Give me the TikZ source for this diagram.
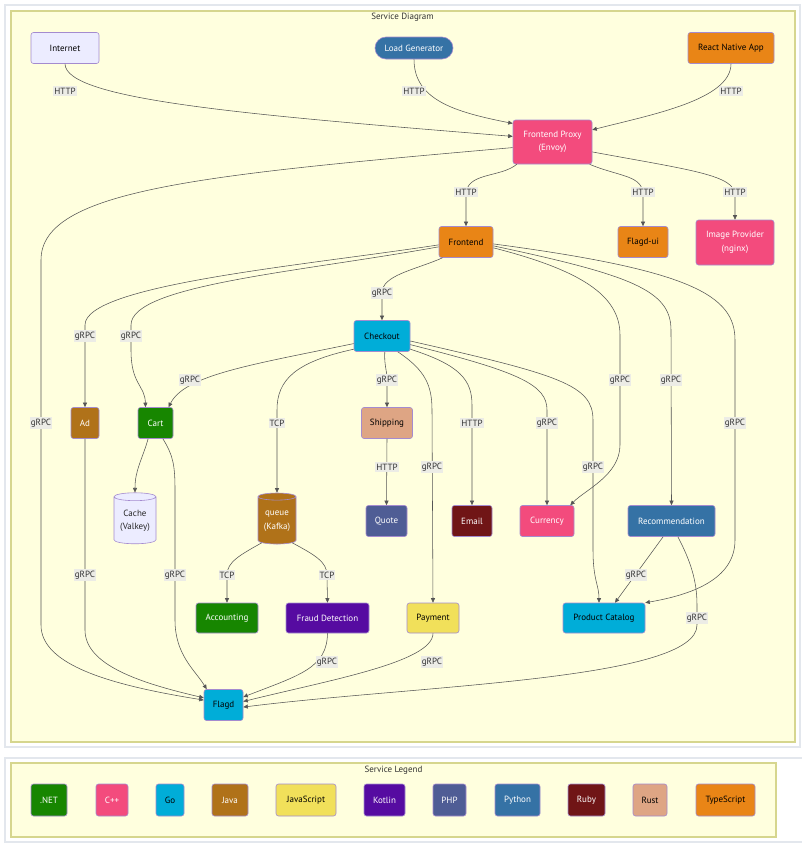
\documentclass[tikz,border=0pt]{standalone}
\usepackage{fontspec}
\setmainfont{PT Sans}
\usetikzlibrary{arrows.meta,shapes.geometric}

\definecolor{dotnet}{HTML}{178600}
\definecolor{cpp}{HTML}{F34B7D}
\definecolor{golang}{HTML}{00ADD8}
\definecolor{java}{HTML}{B07219}
\definecolor{javascript}{HTML}{F1E05A}
\definecolor{kotlin}{HTML}{560BA1}
\definecolor{php}{HTML}{4F5D95}
\definecolor{python}{HTML}{3572A5}
\definecolor{ruby}{HTML}{701516}
\definecolor{rust}{HTML}{DEA584}
\definecolor{typescript}{HTML}{E98516}
\definecolor{extnode}{HTML}{ECECFF}
\definecolor{nodeline}{HTML}{A48BCF}
\definecolor{edgeline}{HTML}{555555}
\definecolor{lblfill}{HTML}{ECECE6}
\definecolor{clusterfill}{HTML}{FFFFDE}
\definecolor{clusterline}{HTML}{D6D68E}
\definecolor{panelline}{HTML}{E3E7ED}

\tikzset{
    svc/.style={draw=nodeline, line width=0.6pt, rounded corners=2.5pt, minimum height=31pt,
        inner xsep=1pt, inner ysep=1pt, align=center, font=\fontsize{9}{13.5}\selectfont},
    lt/.style={svc, text=black},
    dk/.style={svc, text=white},
    db/.style={shape=cylinder, shape border rotate=90, aspect=0.25, draw=nodeline, line width=0.6pt,
        inner sep=1pt, align=center, font=\fontsize{9}{13.5}\selectfont},
    flow/.style={draw=edgeline, line width=0.55pt, -{Triangle[length=4.5pt,width=4pt]}},
    lbl/.style={fill=lblfill, text=black!80, inner xsep=1pt, inner ysep=1.5pt, font=\fontsize{9}{10}\selectfont},
    cluster/.style={fill=clusterfill, draw=clusterline, line width=1.2pt},
    panel/.style={draw=panelline, line width=1.2pt},
    caption/.style={text=black!80, font=\fontsize{9}{10}\selectfont},
}

\begin{document}
\begin{tikzpicture}[x=1pt, y=1pt]
    \useasboundingbox[fill=white] (0,0) rectangle (802,-847);
    \draw[panel] (5,-5) rectangle (800,-747);
    \draw[cluster] (11,-11) rectangle (795,-742);
    \node[caption] (diagtitle) at (402.5,-17) {Service Diagram};
    \draw[panel] (5,-758) rectangle (808,-842);
    \draw[cluster] (11,-763) rectangle (776,-837);
    \node[caption] (legtitle) at (393.5,-770) {Service Legend};

    % services
    \node[lt, fill=extnode, minimum width=68pt] (inet) at (65,-48) {Internet};
    \node[dk, fill=python, minimum width=78pt, minimum height=22pt, rounded corners=11pt] (lg) at (414,-48) {Load Generator};
    \node[lt, fill=typescript, minimum width=86pt] (react) at (731,-48) {React Native App};
    \node[dk, fill=cpp, minimum width=79pt, minimum height=44pt] (proxy) at (552.5,-142) {Frontend Proxy\\(Envoy)};
    \node[lt, fill=typescript, minimum width=54pt] (fe) at (466,-242) {Frontend};
    \node[lt, fill=typescript, minimum width=50pt] (fui) at (643,-242) {Flagd-ui};
    \node[dk, fill=cpp, minimum width=78pt, minimum height=45pt] (img) at (735,-242.5) {Image Provider\\(nginx)};
    \node[lt, fill=golang, minimum width=56pt] (co) at (382,-336) {Checkout};
    \node[dk, fill=java, minimum width=28pt] (ad) at (85,-423) {Ad};
    \node[dk, fill=dotnet, minimum width=35pt] (cart) at (155.5,-423) {Cart};
    \node[lt, fill=rust, minimum width=51pt] (ship) at (387,-423) {Shipping};
    \node[db, fill=extnode, text=black!85, minimum width=42pt, minimum height=51pt] (cache) at (135,-521) {Cache\\(Valkey)};
    \node[db, fill=java, text=white, minimum width=38pt, minimum height=51pt] (kafka) at (277,-521) {queue\\(Kafka)};
    \node[dk, fill=php, minimum width=41pt] (quote) at (386.5,-521) {Quote};
    \node[dk, fill=ruby, minimum width=40pt] (email) at (472,-521) {Email};
    \node[dk, fill=cpp, minimum width=54pt] (cur) at (547,-521) {Currency};
    \node[dk, fill=python, minimum width=87pt] (rec) at (671.5,-521) {Recommendation};
    \node[dk, fill=dotnet, minimum width=62pt, minimum height=30pt] (acc) at (227,-618) {Accounting};
    \node[dk, fill=kotlin, minimum width=83pt, minimum height=30pt] (fraud) at (327.5,-618) {Fraud Detection};
    \node[lt, fill=javascript, minimum width=52pt, minimum height=30pt] (pay) at (433,-618) {Payment};
    \node[lt, fill=golang, minimum width=82pt, minimum height=30pt] (pc) at (604,-618) {Product Catalog};
    \node[lt, fill=golang, minimum width=39pt] (flagd) at (223.5,-705) {Flagd};

    % entry
    \draw[flow] (inet.south) .. controls (65,-100) and (250,-115) .. (proxy.172) node[lbl] at (65,-91) {HTTP};
    \draw[flow] (lg.south) .. controls (414,-100) and (455,-112) .. (proxy.155) node[lbl] at (414,-91) {HTTP};
    \draw[flow] (react.south) .. controls (731,-100) and (650,-115) .. (proxy.17) node[lbl] at (731,-91) {HTTP};
    \draw[flow] (proxy.188) .. controls (200,-175) and (41,-190) .. (41,-260) -- (41,-625)
        .. controls (41,-665) and (110,-685) .. (flagd.166) node[lbl] at (41,-423) {gRPC};
    \draw[flow] (proxy.212) .. controls (500,-178) and (466,-172) .. (466,-195) -- (fe.north) node[lbl] at (466,-192) {HTTP};
    \draw[flow] (proxy.-31) .. controls (620,-177) and (643,-175) .. (643,-195) -- (fui.north) node[lbl] at (643,-192) {HTTP};
    \draw[flow] (proxy.-14) .. controls (690,-170) and (735,-175) .. (735,-195) -- (img.north) node[lbl] at (735,-192) {HTTP};

    % frontend
    \draw[flow] (fe.214) .. controls (415,-270) and (382,-275) .. (382,-293) -- (co.north) node[lbl] at (382,-293) {gRPC};
    \draw[flow] (fe.186) .. controls (300,-266) and (85,-285) .. (85,-325) -- (ad.north) node[lbl] at (85,-336) {gRPC};
    \draw[flow] (fe.190) .. controls (300,-272) and (131,-285) .. (131,-325) -- (131,-350)
        .. controls (131,-385) and (145,-385) .. ([xshift=-10pt]cart.north) node[lbl] at (131,-336) {gRPC};
    \draw[flow] (fe.-12) .. controls (580,-270) and (620,-295) .. (620,-335) -- (620,-445)
        .. controls (620,-475) and (585,-490) .. ([xshift=-4pt]cur.north east) node[lbl] at (620,-380) {gRPC};
    \draw[flow] (fe.-8) .. controls (630,-275) and (671,-290) .. (671,-330) -- (rec.north) node[lbl] at (671,-380) {gRPC};
    \draw[flow] (fe.-4) .. controls (690,-270) and (735,-295) .. (735,-340) -- (735,-540)
        .. controls (735,-580) and (690,-595) .. (pc.north east) node[lbl] at (735,-423) {gRPC};

    % checkout
    \draw[flow] (co.195) .. controls (250,-365) and (185,-375) .. ([xshift=13pt]cart.north) node[lbl] at (190,-380) {gRPC};
    \draw[flow] (co.205) .. controls (295,-362) and (277,-380) .. (277,-410) -- (kafka.90) node[lbl] at (277,-423) {TCP};
    \draw[flow] (co.-80) .. controls (384,-365) and (387,-370) .. (387,-380) -- (ship.north) node[lbl] at (387,-380) {gRPC};
    \draw[flow] (co.-45) .. controls (425,-370) and (432,-385) .. (432,-410) -- (pay.north) node[lbl] at (432,-467) {gRPC};
    \draw[flow] (co.-25) .. controls (460,-365) and (472,-380) .. (472,-405) -- (email.north) node[lbl] at (472,-423) {HTTP};
    \draw[flow] (co.-17) .. controls (520,-372) and (547,-385) .. (547,-410) -- (cur.north) node[lbl] at (547,-423) {gRPC};
    \draw[flow] (co.-10) .. controls (560,-375) and (593,-385) .. (593,-420) -- (593,-550)
        .. controls (593,-580) and (599,-585) .. ([xshift=-5pt]pc.north) node[lbl] at (593,-467) {gRPC};
    \draw[flow] (ship.south) -- (quote.north) node[lbl] at (387,-467) {HTTP};

    % backends
    \draw[flow] (cart.-115) .. controls (142,-460) and (135,-470) .. (cache.90);
    \draw[flow] (cart.-65) .. controls (173,-455) and (175,-465) .. (175,-490) -- (175,-620)
        .. controls (175,-655) and (195,-670) .. ([xshift=3pt]flagd.north west) node[lbl] at (175,-575) {gRPC};
    \draw[flow] (ad.south) -- (85,-630) .. controls (85,-665) and (140,-683) .. (flagd.160) node[lbl] at (85,-575) {gRPC};
    \draw[flow] (kafka.235) .. controls (240,-555) and (227,-562) .. (227,-575) -- (acc.north) node[lbl] at (227,-575) {TCP};
    \draw[flow] (kafka.-55) .. controls (315,-555) and (327,-562) .. (327,-575) -- (fraud.north) node[lbl] at (327,-575) {TCP};
    \draw[flow] (rec.-118) -- ([xshift=11pt]pc.north) node[lbl] at (636,-575) {gRPC};
    \draw[flow] (rec.-68) .. controls (690,-560) and (697,-580) .. (697,-605) -- (697,-625)
        .. controls (697,-680) and (420,-685) .. (flagd.-6) node[lbl] at (697,-618) {gRPC};
    \draw[flow] (fraud.south) .. controls (327,-668) and (300,-675) .. (flagd.22) node[lbl] at (327,-662) {gRPC};
    \draw[flow] (pay.south) .. controls (433,-662) and (330,-680) .. (flagd.10) node[lbl] at (432,-662) {gRPC};

    % legend
    \foreach \lname/\lx/\lw/\lcol/\ltxt/\ltc in {net/49/36pt/dotnet/.NET/white, cpp/112/32pt/cpp/C++/white,
        go/170/28pt/golang/Go/black, java/230/36pt/java/Java/white, js/306/60pt/javascript/JavaScript/black,
        kt/384.5/41pt/kotlin/Kotlin/white, php/449.5/33pt/php/PHP/white, py/517.5/45pt/python/Python/white,
        rb/586.5/37pt/ruby/Ruby/white, rs/650/34pt/rust/Rust/black, ts/725.5/59pt/typescript/TypeScript/black}
    \node[svc, fill=\lcol, text=\ltc, minimum width=\lw, minimum height=32pt] (leg\lname) at (\lx,-800) {\ltxt};
\end{tikzpicture}
\end{document}
